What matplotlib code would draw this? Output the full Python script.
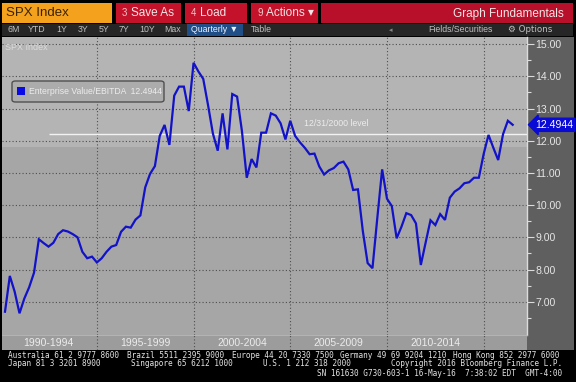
import numpy as np
import pandas as pd
import matplotlib
matplotlib.use("Agg")
import matplotlib.pyplot as plt
from matplotlib.patches import Rectangle, FancyBboxPatch

# ── DATA ────────────────────────────────────────────────────
quarters = pd.period_range("1990Q1", "2016Q2", freq="Q")
ev_ebitda = [
    6.69, 7.80, 7.31, 6.64, 7.10, 7.45, 7.90, 8.94, 8.82, 8.71,
    8.83, 9.10, 9.22, 9.18, 9.10, 9.00, 8.55, 8.35, 8.40, 8.22,
    8.35, 8.55, 8.71, 8.76, 9.17, 9.33, 9.30, 9.55, 9.68, 10.55,
    10.97, 11.21, 12.15, 12.49, 11.87, 13.40, 13.68, 13.68, 12.92, 14.42,
    14.15, 13.92, 13.10, 12.22, 11.69, 12.85, 11.73, 13.45, 13.37, 12.30,
    10.85, 11.43, 11.17, 12.25, 12.25, 12.85, 12.78, 12.54, 12.04, 12.62,
    12.15, 11.95, 11.78, 11.58, 11.60, 11.20, 10.95, 11.08, 11.15, 11.30,
    11.35, 11.11, 10.47, 10.49, 9.20, 8.20, 8.04, 9.60, 11.11, 10.20,
    9.97, 8.97, 9.33, 9.75, 9.69, 9.43, 8.14, 8.84, 9.53, 9.38,
    9.72, 9.54, 10.23, 10.42, 10.52, 10.68, 10.71, 10.85, 10.85, 11.59,
    12.18, 11.78, 11.40, 12.20, 12.62, 12.4944,
]
period_labels = ["1990-1994", "1995-1999", "2000-2004", "2005-2009", "2010-2014"]
period_starts = [1990, 1995, 2000, 2005, 2010, 2015]
y_ticks = [7, 8, 9, 10, 11, 12, 13, 14, 15]
series_name = "Enterprise Value/EBITDA"
level_date = "2000Q4"
level_label = "12/31/2000 level"

x = np.array([q.year + q.quarter / 4 for q in quarters])
last_val = ev_ebitda[-1]
level_val = ev_ebitda[list(quarters.astype(str)).index(level_date)]

# ── FIGURE (pixel helpers) ──────────────────────────────────
W, H = 576, 382
fig = plt.figure(figsize=(W / 100, H / 100), dpi=100, facecolor="black")


def box(x0, y0, x1, y1, color, z=1):
    fig.add_artist(Rectangle((x0 / W, 1 - y1 / H), (x1 - x0) / W, (y1 - y0) / H,
                             transform=fig.transFigure, fc=color, ec="none", zorder=z))


def ftext(px, py, s, **kw):
    fig.text(px / W, 1 - py / H, s, **kw)


SANS = ["Liberation Sans", "DejaVu Sans"]

# ── top toolbar ─────────────────────────────────────────────
box(2, 3, 112, 23, "#f4a21e")
ftext(6, 13.5, "SPX Index", color="#3a2400", fontsize=9.5, va="center", family=SANS)
for x0, x1, num, lbl in [(116, 181, "3", "Save As"), (185, 247, "4", "Load"),
                         (251, 318, "9", "Actions \u25be")]:
    box(x0, 3, x1, 23, "#c4122b")
    ftext(x0 + 6, 13.5, num, color="#f0c8c8", fontsize=7, va="center", family=SANS)
    ftext(x0 + 15, 13.5, lbl, color="#f3e6e6", fontsize=8.5, va="center", family=SANS)
box(321, 3, 573, 23, "#b8102a")
ftext(564, 13.5, "Graph Fundamentals", color="#f3e6e6", fontsize=8.5, va="center",
      ha="right", family=SANS)

box(2, 24, 573, 36, "#262626")
for lbl, cx in [("6M", 14), ("YTD", 37), ("1Y", 62), ("3Y", 83), ("5Y", 104),
                ("7Y", 124), ("10Y", 147), ("Max", 173), ("Table", 261)]:
    ftext(cx, 30, lbl, color="#c0c0c0", fontsize=6.3, ha="center", va="center", family=SANS)
box(187, 24, 243, 36, "#1f4f86")
ftext(215, 30, "Quarterly \u25bc", color="#eef2ff", fontsize=6.3, ha="center", va="center",
      family=SANS)
ftext(391, 30, "\u25c2", color="#888888", fontsize=5, ha="center", va="center")
ftext(460, 30, "Fields/Securities", color="#c0c0c0", fontsize=6.3, ha="center", va="center",
      family=SANS)
ftext(530, 30, "\u2699 Options", color="#c0c0c0", fontsize=6.3, ha="center", va="center",
      family=["DejaVu Sans"])

# ── right value panel ───────────────────────────────────────
box(527, 37, 574, 350, "#5f5f5f", z=0)

# ── main axes ───────────────────────────────────────────────
ax = fig.add_axes([2 / W, 1 - 335 / H, 525 / W, 298 / H])
ax.set_zorder(3)
ax.set_facecolor("#a6a6a6")
ax.axhspan(11.8, 16, color="#b4b4b4", zorder=0, lw=0)
ax.set_xlim(1990.095, 2017.24)
ax.set_ylim(5.966, 15.221)

for v in y_ticks:
    ax.axhline(v, color="#4e4e4e", lw=0.8, ls=(0, (1, 2)), zorder=1)
for s in period_starts[1:]:
    ax.axvline(s, color="#4e4e4e", lw=0.8, ls=(0, (1, 2)), zorder=1)

ax.plot(x, ev_ebitda, color="#1212c8", lw=1.6, zorder=4, solid_joinstyle="miter")

# 12/31/2000 level line
ax.hlines(level_val, 1992.5, 2017.24, color="#f2f2f2", lw=1.0, zorder=3)
ax.text(2007.4, level_val + 0.3, level_label, color="#ececec", fontsize=6.3,
        ha="center", va="center", family=SANS, zorder=5)

ax.text(0.006, 0.965, "SPX Index", transform=ax.transAxes, color="#dcdcdc",
        fontsize=6.5, va="center", family=SANS)

# legend box
leg = FancyBboxPatch((12 / W, 1 - 102 / H), 152 / W, 21 / H,
                     boxstyle="round,pad=0,rounding_size=0.006",
                     transform=fig.transFigure, fc="#acacac", ec="#505050", lw=1.0, zorder=6)
fig.add_artist(leg)
box(17, 87, 25, 95, "#0a0ae6", z=7)
ftext(29, 91.5, f"{series_name}  {last_val:.4f}", color="#ececec", fontsize=6.2,
      va="center", family=SANS, zorder=7)

# y axis on the right
ax.yaxis.tick_right()
ax.set_yticks(y_ticks)
ax.set_yticklabels([f"{v:.2f}" for v in y_ticks])
ax.set_yticks(np.arange(6.5, 15.5, 1.0), minor=True)
ax.tick_params(axis="y", which="major", colors="#dcdcdc", labelcolor="#e6e6e6",
               length=5, width=0.8, labelsize=7.6, pad=1)
ax.tick_params(axis="y", which="minor", colors="#dcdcdc", length=3, width=0.8)
for lab in ax.get_yticklabels():
    lab.set_family(SANS)
ax.set_xticks([])
for side in ["top", "left"]:
    ax.spines[side].set_visible(False)
ax.spines["right"].set_color("#dcdcdc")
ax.spines["right"].set_linewidth(1.0)
ax.spines["bottom"].set_color("#b8b8b8")
ax.spines["bottom"].set_linewidth(0.6)

# current value tag
ax.annotate(f"{last_val:.4f}", xy=(1.0, last_val), xycoords=("axes fraction", "data"),
            xytext=(6, 0), textcoords="offset points", color="white", fontsize=7.6,
            va="center", ha="left", family=SANS, annotation_clip=False, zorder=8,
            bbox=dict(boxstyle="larrow,pad=0.15", fc="#0a0ad6", ec="#0a0ad6"))

# ── period label band ───────────────────────────────────────
band = fig.add_axes([2 / W, 1 - 350 / H, 525 / W, 15 / H])
band.set_facecolor("#9c9c9c")
band.set_xlim(ax.get_xlim())
band.set_ylim(0, 1)
band.set_xticks([])
band.set_yticks([])
for sp in band.spines.values():
    sp.set_visible(False)
for s in period_starts[1:]:
    band.axvline(s, color="#4e4e4e", lw=0.8, ls=(0, (1, 2)))
for lbl, s0, s1 in zip(period_labels, period_starts[:-1], period_starts[1:]):
    band.text((s0 + s1) / 2, 0.45, lbl, color="#ececec", fontsize=7.5,
              ha="center", va="center", family=SANS)

# ── footer ──────────────────────────────────────────────────
MONO = dict(color="#e4e4e4", fontsize=5.6, family="DejaVu Sans Mono", va="center")
for px, s in [(8, "Australia 61 2 9777 8600"), (127, "Brazil 5511 2395 9000"),
              (232, "Europe 44 20 7330 7500"), (340, "Germany 49 69 9204 1210"),
              (453, "Hong Kong 852 2977 6000")]:
    ftext(px, 355, s, **MONO)
ftext(8, 364, "Japan 81 3 3201 8900", **MONO)
ftext(131, 364, "Singapore 65 6212 1000", **MONO)
ftext(263, 364, "U.S. 1 212 318 2000", **MONO)
ftext(562, 364, "Copyright 2016 Bloomberg Finance L.P.", ha="right", **MONO)
ftext(562, 373, "SN 161630 G730-603-1 16-May-16  7:38:02 EDT  GMT-4:00", ha="right",
      **MONO)

fig.savefig("out.png", dpi=100, facecolor=fig.get_facecolor())
